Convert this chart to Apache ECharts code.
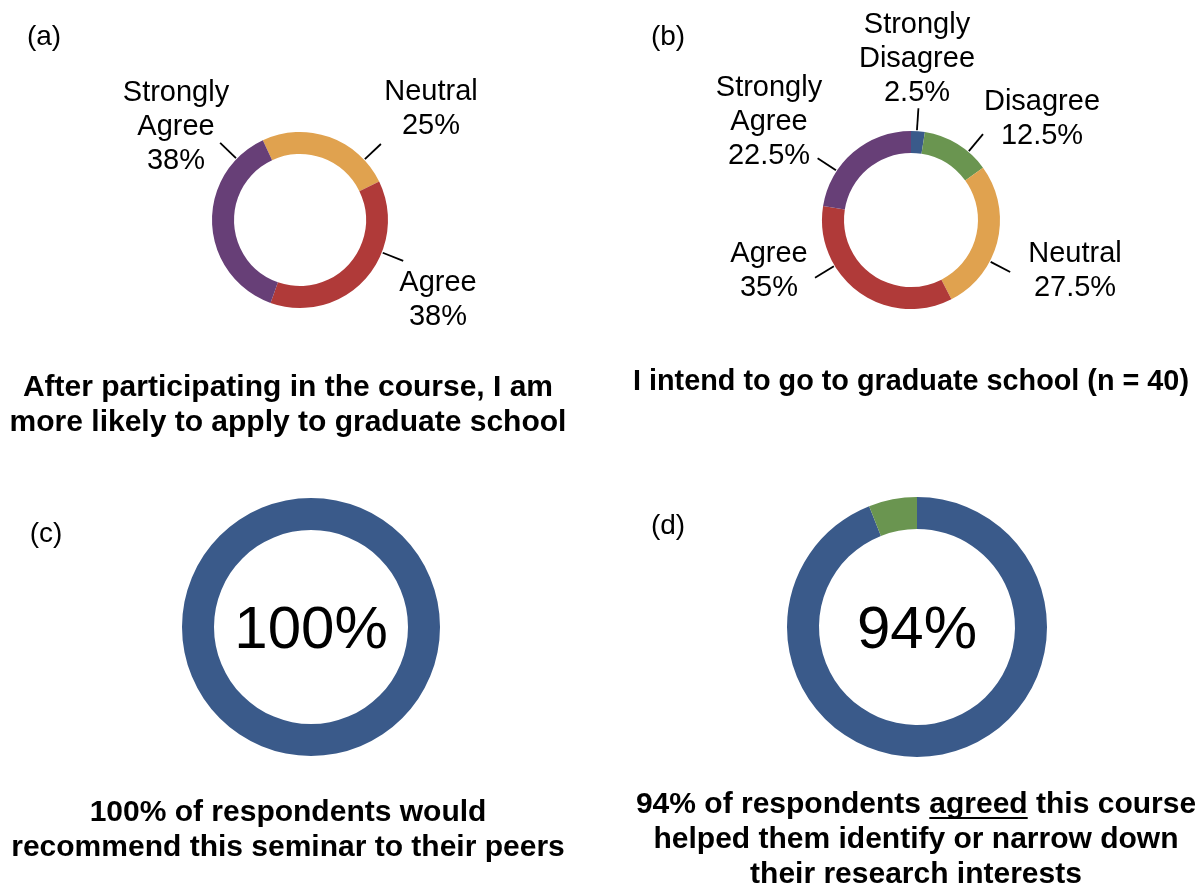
<!DOCTYPE html>
<html><head><meta charset="utf-8">
<script src="https://cdn.jsdelivr.net/npm/echarts@6/dist/echarts.min.js"></script>
<style>html,body{margin:0;padding:0;background:#fff}#c{width:1195px;height:888px}</style>
</head><body><div id="c"></div>
<script>
// ---- data ----
const catsA = ['Neutral', 'Agree', 'Strongly Agree'];
const valsA = [25, 38, 38];
const catsB = ['Strongly Disagree', 'Disagree', 'Neutral', 'Agree', 'Strongly Agree'];
const valsB = [2.5, 12.5, 27.5, 35, 22.5];
const catsC = ['Would recommend'];
const valsC = [100];
const catsD = ['Agreed', 'Other'];
const valsD = [94, 6];

const titleA = 'After participating in the course, I am\nmore likely to apply to graduate school';
const titleB = 'I intend to go to graduate school (n = 40)';
const titleC = '100% of respondents would\nrecommend this seminar to their peers';
const titleD1 = '94% of respondents agreed this course';
const titleD = titleD1 + '\nhelped them identify or narrow down\ntheir research interests';

// ---- style ----
const FONT = '"Liberation Sans", Arial, Helvetica, sans-serif';
const COLORS = {
  'Strongly Disagree': '#3A5A8A', 'Disagree': '#6A9550', 'Neutral': '#E0A24F',
  'Agree': '#B03A39', 'Strongly Agree': '#673F77',
  'Would recommend': '#3A5A8A', 'Agreed': '#3A5A8A', 'Other': '#6A9550'
};
// label anchor offsets relative to each pie centre, and leader-line angles (deg clockwise from top)
const labelPosA = [[131, -111], [138, 80], [-124, -93]];
const lineAngA = [46.8, 111.6, 314];
const labelPosB = [[6, -161], [131, -101], [164, 51], [-142, 51], [-142, -98]];
const lineAngB = [3.8, 40, 117.7, 239, 303.5];

const geo = {
  a: {c: [300, 220], r: [66, 88]},
  b: {c: [911, 220], r: [67, 89]},
  c: {c: [311, 627], r: [97, 129]},
  d: {c: [917, 627], r: [98, 130]}
};

function makeLayout(g, offsets, angles, len) {
  const cx = g.c[0], cy = g.c[1], rOut = g.r[1];
  return function (p) {
    const o = offsets[p.dataIndex];
    const a = angles[p.dataIndex] * Math.PI / 180;
    const ux = Math.sin(a), uy = -Math.cos(a);
    const s = [cx + ux * (rOut + 1), cy + uy * (rOut + 1)];
    const e = [cx + ux * (rOut + len), cy + uy * (rOut + len)];
    return {x: cx + o[0], y: cy + o[1], align: 'center', verticalAlign: 'middle', labelLinePoints: [s, e, e]};
  };
}

function ringSeries(g, cats, vals, startAngle, extra) {
  return Object.assign({
    type: 'pie', center: g.c, radius: g.r, startAngle: startAngle, clockwise: true,
    silent: true, animation: false, emphasis: {disabled: true},
    itemStyle: {borderWidth: 0},
    data: cats.map((n, i) => ({name: n, value: vals[i], itemStyle: {color: COLORS[n]}}))
  }, extra);
}

const outerLabel = {
  show: true, position: 'outside',
  formatter: p => p.name.replace(' ', '\n') + '\n' + p.value + '%',
  fontSize: 29, lineHeight: 34, color: '#000', fontFamily: FONT
};
const outerLine = {show: true, length: 10, length2: 0, lineStyle: {color: '#000', width: 1.8}};
const centerLabel = {show: true, position: 'center', formatter: '{d}%', fontSize: 60, color: '#000',
  fontFamily: FONT, fontWeight: 'normal', offset: [0, 4]};

const sA = ringSeries(geo.a, catsA, valsA, 115, {label: outerLabel, labelLine: outerLine, labelLayout: makeLayout(geo.a, labelPosA, lineAngA, 23)});
const sB = ringSeries(geo.b, catsB, valsB, 90, {label: outerLabel, labelLine: outerLine, labelLayout: makeLayout(geo.b, labelPosB, lineAngB, 23)});
const sC = ringSeries(geo.c, catsC, valsC, 90, {label: centerLabel, labelLine: {show: false}});
const sD = ringSeries(geo.d, catsD, valsD, 90, {label: centerLabel, labelLine: {show: false}});
sD.data[1].label = {show: false};

function txt(x, y, text, size, weight, lh) {
  return {type: 'text', x: x, y: y, silent: true,
    style: {text: text, fill: '#000', fontSize: size, fontWeight: weight, fontFamily: FONT,
      textAlign: 'center', textVerticalAlign: 'middle', align: 'center', verticalAlign: 'middle', lineHeight: lh}};
}

// underline under "agreed"
const TF = 'bold 30px ' + FONT;
const mctx = document.createElement('canvas').getContext('2d');
mctx.font = TF;
const wFull = mctx.measureText(titleD1).width;
const wPre = mctx.measureText('94% of respondents ').width;
const wWord = mctx.measureText('agreed').width;
const dCx = 916, dCy = 840, dLH = 35;
const ulX = dCx - wFull / 2 + wPre;
const ulY = dCy - dLH + 12;

const graphics = [
  txt(44, 37, '(a)', 28, 'normal', 32),
  txt(668, 37, '(b)', 28, 'normal', 32),
  txt(46, 534, '(c)', 28, 'normal', 32),
  txt(668, 526, '(d)', 28, 'normal', 32),
  txt(288, 405, titleA, 30, 'bold', 35),
  txt(911, 382, titleB, 28.8, 'bold', 35),
  txt(288, 830, titleC, 30, 'bold', 35),
  txt(dCx, dCy, titleD, 30, 'bold', dLH),
  {type: 'rect', silent: true, shape: {x: ulX, y: ulY, width: wWord, height: 2}, style: {fill: '#000'}}
];

const chart = echarts.init(document.getElementById('c'), null, {renderer: 'canvas'});
chart.setOption({
  backgroundColor: '#fff',
  animation: false,
  series: [sA, sB, sC, sD],
  graphic: graphics
});
</script></body></html>
